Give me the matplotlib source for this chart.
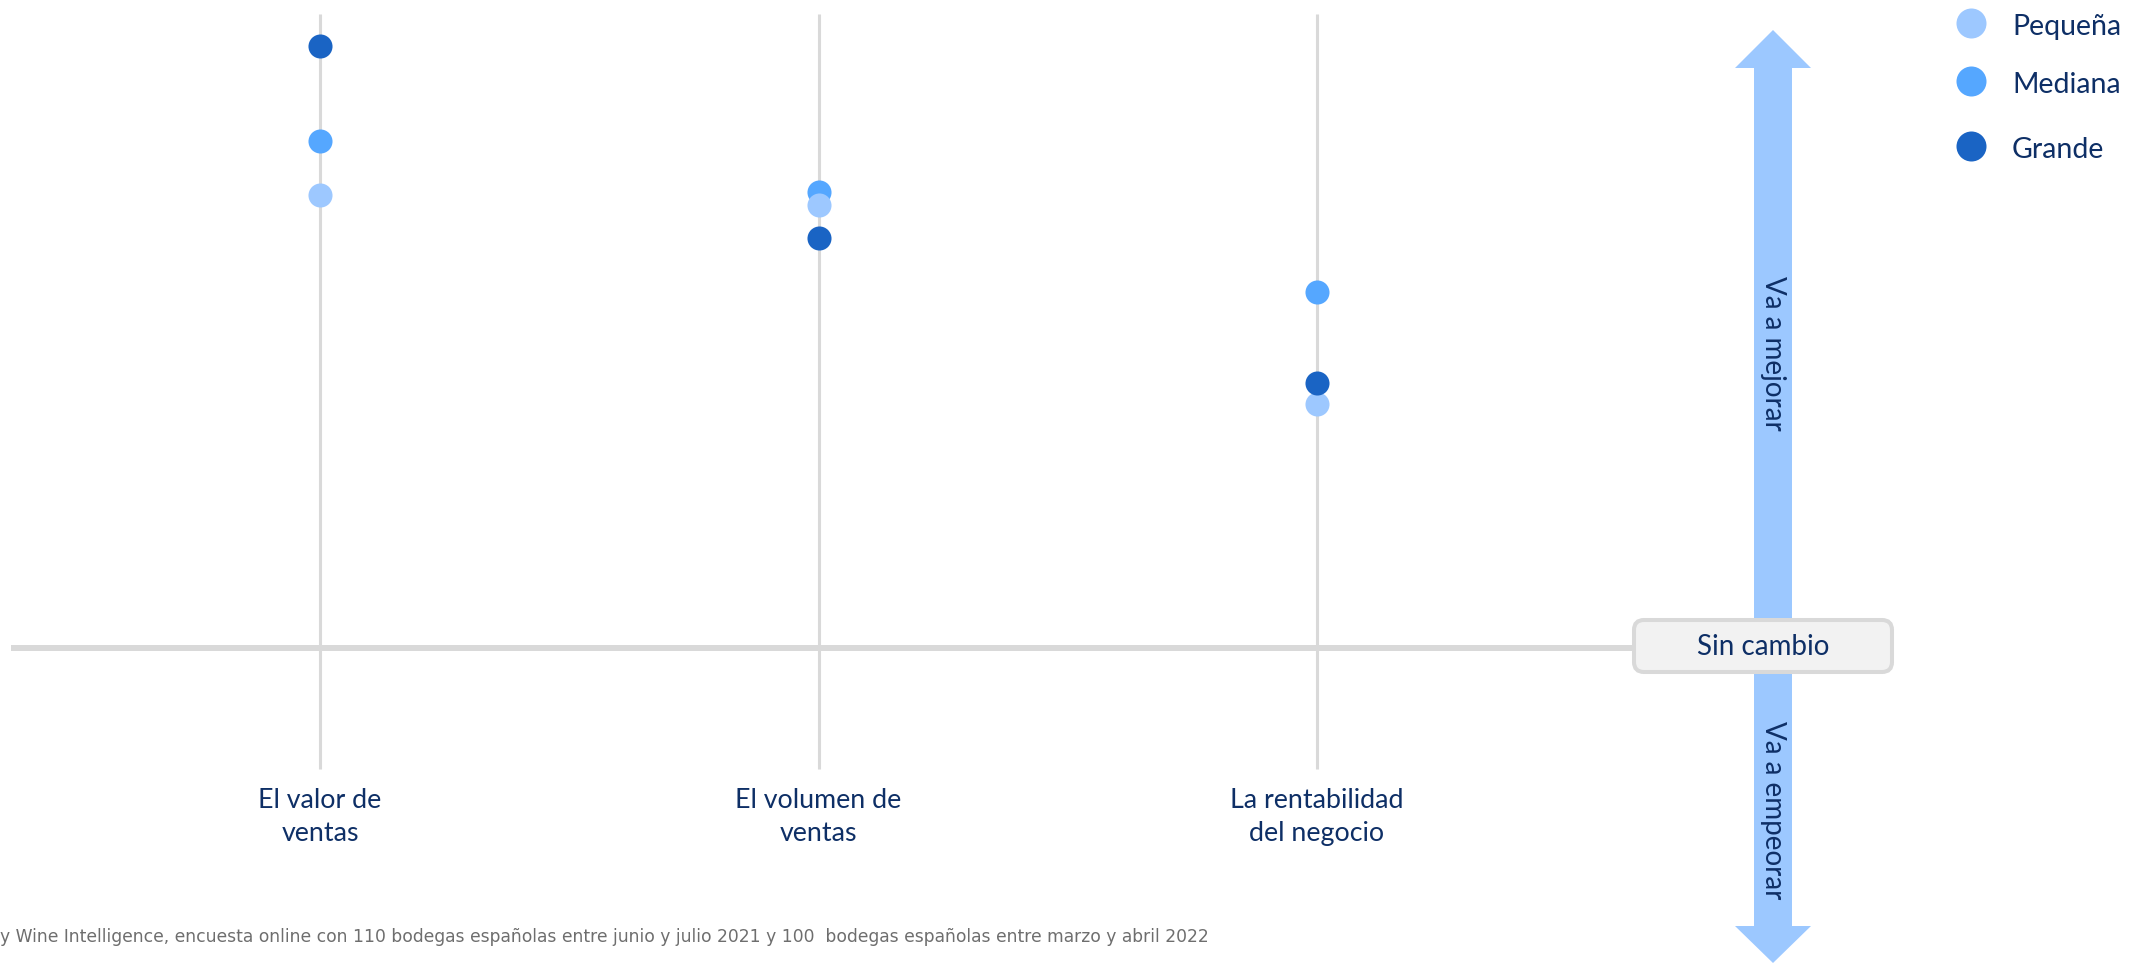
import matplotlib
matplotlib.use('Agg')
import matplotlib.pyplot as plt
from matplotlib.patches import Polygon, FancyBboxPatch

# Datos: cambio esperado por tamaño de bodega
categorias = ['El valor de\nventas', 'El volumen de\nventas', 'La rentabilidad\ndel negocio']
tamanos = ['Pequeña', 'Mediana', 'Grande']
pequena = [45.3, 44.3, 24.4]
mediana = [50.7, 45.6, 35.6]
grande = [60.2, 41.0, 26.5]
colores = {'Pequeña': '#9DC8FF', 'Mediana': '#55A7FF', 'Grande': '#1A64C4'}
valores = {'Pequeña': pequena, 'Mediana': mediana, 'Grande': grande}

azul_texto = '#0E2F66'
gris = '#D9D9D9'
fuente = ['Lato', 'DejaVu Sans']

W, H = 2146, 965
fig = plt.figure(figsize=(W / 100, H / 100), dpi=100)

# Ejes de datos: categorias en x, valor en y
ax = fig.add_axes([0, 0, 1, 1])
ax.set_xlim(-0.642, 3.663)
ax.set_ylim(-31.7, 64.8)
ax.axis('off')

x = range(len(categorias))
ax.vlines(x, -12.1, 63.4, color=gris, lw=2.2, zorder=1)
ax.hlines(0, -0.62, 2.64, color=gris, lw=4.3, zorder=1)

# orden de dibujo: mediana, pequeña y grande encima
for t in ['Mediana', 'Pequeña', 'Grande']:
    ax.scatter(x, valores[t], s=300, color=colores[t], lw=0, zorder=3)

for i, c in enumerate(categorias):
    ax.text(i, -16.9, c, ha='center', va='center', fontsize=19.3,
            color=azul_texto, family=fuente, linespacing=1.38)

# Capa en pixeles para flecha, caja y leyenda
ov = fig.add_axes([0, 0, 1, 1], facecolor='none')
ov.set_xlim(0, W)
ov.set_ylim(H, 0)
ov.axis('off')

flecha = [(1773, 30), (1811, 68), (1792, 68), (1792, 926), (1811, 926),
          (1773, 963), (1735, 926), (1754, 926), (1754, 68), (1735, 68)]
ov.add_patch(Polygon(flecha, closed=True, color='#9CC8FF', lw=0, zorder=2))
ov.text(1773, 353, 'Va a mejorar', rotation=-90, ha='center', va='center',
        fontsize=20, color=azul_texto, family=fuente)
ov.text(1773, 810, 'Va a empeorar', rotation=-90, ha='center', va='center',
        fontsize=20, color=azul_texto, family=fuente)

ov.add_patch(FancyBboxPatch((1634, 620), 258, 52,
                            boxstyle='round,pad=0,rounding_size=10',
                            fc='#F2F2F2', ec=gris, lw=2.9, zorder=4))
ov.text(1763, 647, 'Sin cambio', ha='center', va='center', fontsize=20,
        color=azul_texto, family=fuente, zorder=5)

# Leyenda
ley_y = [23, 81, 146]
for t, yy in zip(tamanos, ley_y):
    ov.scatter([1971], [yy], s=467, color=colores[t], lw=0, zorder=3)
    ov.text(2012, yy + 4, t, ha='left', va='center', fontsize=20.5,
            color=azul_texto, family=fuente)

ov.text(0, 942, 'y Wine Intelligence, encuesta online con 110 bodegas españolas entre junio y julio 2021 y 100  bodegas españolas entre marzo y abril 2022',
        ha='left', va='baseline', fontsize=12.3, color='#6E6E6E',
        family=['DejaVu Sans'])

fig.savefig('out.png', dpi=100)
